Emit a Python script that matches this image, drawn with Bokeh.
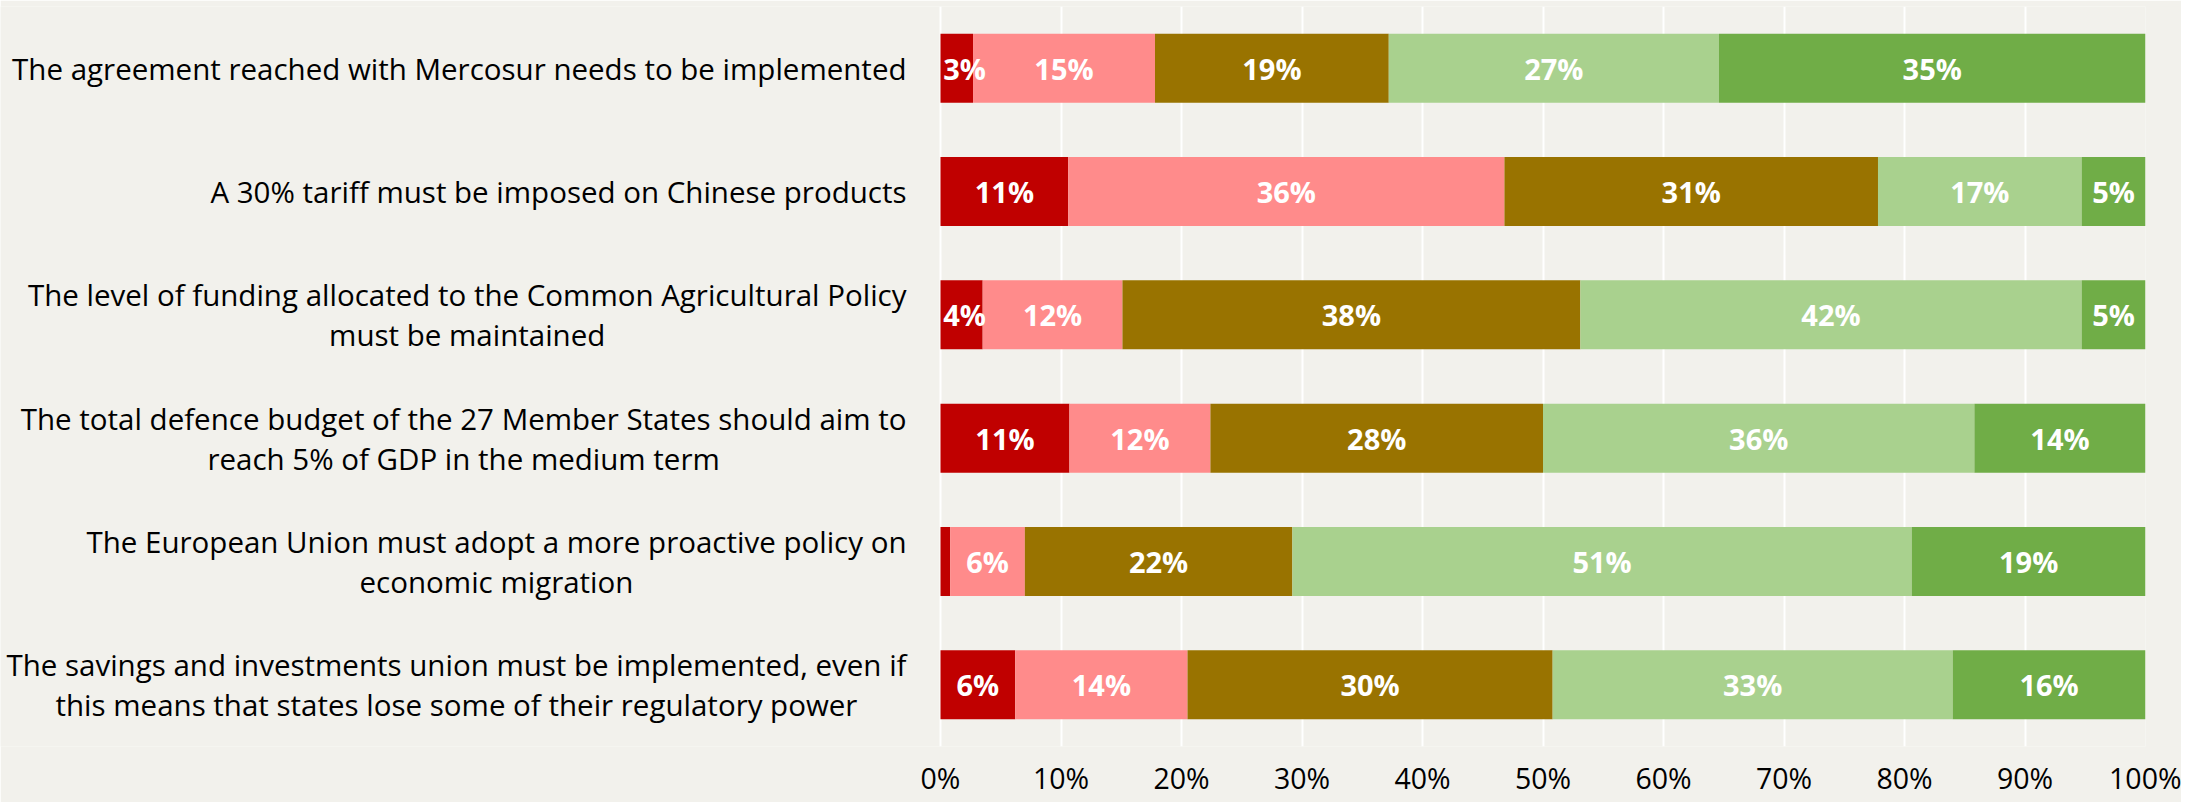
from bokeh.plotting import figure
from bokeh.models import ColumnDataSource, FactorRange, Range1d, FixedTicker, PrintfTickFormatter
from bokeh.core.properties import value
from bokeh.embed import file_html
from bokeh.resources import INLINE

statements = [
    "The agreement reached with Mercosur needs to be implemented",
    "A 30% tariff must be imposed on Chinese products",
    "The level of funding allocated to the Common Agricultural Policy\nmust be maintained",
    "The total defence budget of the 27 Member States should aim to\nreach 5% of GDP in the medium term",
    "The European Union must adopt a more proactive policy on\neconomic migration",
    "The savings and investments union must be implemented, even if\nthis means that states lose some of their regulatory power",
]
strongly_disagree = [2.7, 10.6, 3.5, 10.7, 0.8, 6.2]
disagree = [15.1, 36.2, 11.6, 11.7, 6.2, 14.3]
neutral = [19.4, 31.0, 38.0, 27.6, 22.2, 30.3]
agree = [27.4, 16.9, 41.6, 35.8, 51.4, 33.2]
strongly_agree = [35.4, 5.3, 5.3, 14.2, 19.4, 16.0]
x_ticks = [0, 10, 20, 30, 40, 50, 60, 70, 80, 90, 100]

series = ["sd", "d", "n", "a", "sa"]
series_values = [strongly_disagree, disagree, neutral, agree, strongly_agree]
colors = ["#C00000", "#FF8B8B", "#997300", "#A9D18E", "#70AD47"]
BG = "#F2F1EC"

data = {"stmt": statements}
for k, v in zip(series, series_values):
    data[k] = v
source = ColumnDataSource(data)

factors = list(reversed(statements))
# frame spans the label area too: 0% sits 940px from the left edge, 12.05px per %
p = figure(
    width=2181, height=802,
    y_range=FactorRange(factors=factors, range_padding=0),
    x_range=Range1d(-940 / 12.05, 100),
    output_backend="svg", toolbar_location=None,
    min_border_left=0, min_border_right=36, min_border_top=6, min_border_bottom=56,
    background_fill_color=BG, border_fill_color=BG, outline_line_color=None,
)

p.hbar_stack(series, y="stmt", height=0.56, color=colors, line_color=None, source=source)

# segment labels
lx, ly, lt = [], [], []
for i, s in enumerate(statements):
    cum = 0.0
    for vals in series_values:
        v = vals[i]
        if v >= 2:
            lx.append(max(cum + v / 2, 2.0))
            ly.append(s)
            lt.append(f"{round(v)}%")
        cum += v
lsrc = ColumnDataSource(dict(x=lx, y=ly, t=lt))
p.text(x="x", y="y", text="t", source=lsrc, text_align="center", text_baseline="middle",
       text_color="white", text_font=value("Open Sans"), text_font_style="bold",
       text_font_size="29px")

# category labels: right-anchored blocks with centred lines
csrc = ColumnDataSource(dict(x=[0] * len(statements), y=statements, t=statements))
p.text(x="x", y="y", text="t", source=csrc, x_offset=-34, anchor="center_right",
       text_align="center", text_baseline="middle",
       text_font=value("Open Sans"), text_font_size="29.5px",
       text_color="#000000", text_line_height=0.97)

p.xgrid.ticker = FixedTicker(ticks=x_ticks)
p.xgrid.grid_line_color = "white"
p.xgrid.grid_line_width = 2
p.ygrid.grid_line_color = None

p.xaxis.ticker = FixedTicker(ticks=x_ticks)
p.xaxis.formatter = PrintfTickFormatter(format="%d%%")
ax = p.xaxis[0]
ax.axis_line_color = None
ax.major_tick_line_color = None
ax.minor_tick_line_color = None
ax.major_tick_out = 0
ax.major_tick_in = 0
ax.major_label_text_font = "Open Sans"
ax.major_label_text_font_size = "28.5px"
ax.major_label_text_color = "#000000"
ax.major_label_standoff = 12
p.yaxis.visible = False

open("out.html", "w").write(file_html(p, INLINE))
